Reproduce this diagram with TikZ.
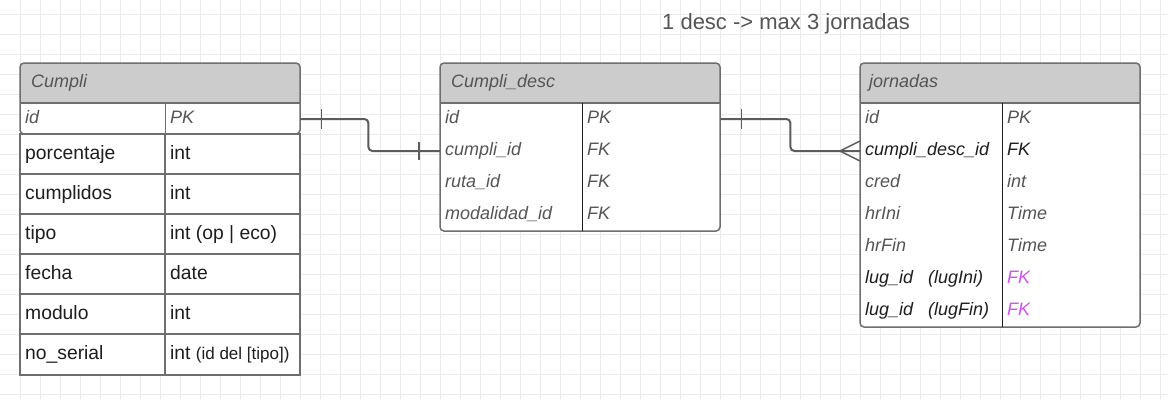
\documentclass[tikz,border=0pt]{standalone}
\usepackage{fontspec}
\setmainfont{Liberation Sans}
\definecolor{hdrgray}{HTML}{CCCCCC}
\definecolor{framegray}{HTML}{6E6E6E}
\definecolor{textgray}{HTML}{555555}
\definecolor{textdark}{HTML}{1E1E1E}
\definecolor{fkpink}{HTML}{CC55EE}
\definecolor{gridgray}{HTML}{EBEBEB}
\definecolor{linkgray}{HTML}{5C5C5C}

\begin{document}
\begin{tikzpicture}[x=1pt,y=-1pt,
		tblframe/.style={draw=framegray,line width=1.5pt},
		divline/.style={draw=textdark,line width=1pt},
		cell/.style={anchor=west,inner xsep=5pt,inner ysep=0pt,text height=13pt,text depth=4pt,font=\fontsize{18}{20}\selectfont\itshape,text=textgray},
		attr/.style={cell,font=\fontsize{19.3}{22}\selectfont,text=textdark,text height=14pt,text depth=3pt},
		link/.style={draw=linkgray,line width=2pt,rounded corners=4},
		tick/.style={draw=linkgray,line width=1.5pt}]
		\useasboundingbox (0,0) rectangle (1168,400);
		\fill[white] (0,0) rectangle (1168,400);
		% canvas grid
		\foreach \gx in {20,40,...,1160} \draw[gridgray,line width=1pt] (\gx,0) -- (\gx,400);
		\foreach \gy in {14,34,...,394} \draw[gridgray,line width=1pt] (0,\gy) -- (1168,\gy);
		
		\node[anchor=west,inner sep=0pt,font=\fontsize{22}{26}\selectfont,text=textgray] (note) at (662,24){1 desc -> max 3 jornadas};
		
		% Cumpli
		\fill[white,rounded corners=4] (20,63) rectangle (300,134);
		\fill[hdrgray,rounded corners=4] (20,103) -- (20,63) -- (300,63) -- (300,103);
		\draw[tblframe,rounded corners=4] (20,63) rectangle (300,134);
		\draw[tblframe] (20,103) -- (300,103);
		\draw[draw=framegray,line width=1pt] (165,103) -- (165,134);
		\fill[white] (20,134) rectangle (300,375);
		\draw[tblframe] (20,134) rectangle (300,375);
		\draw[tblframe] (20,174) -- (300,174) (20,214) -- (300,214) (20,254) -- (300,254) (20,294) -- (300,294) (20,334) -- (300,334);
		\draw[tblframe] (165,134) -- (165,375);
		\node[cell,inner xsep=0pt] (cumpli) at (31,83){Cumpli};
		\node[cell] (c1) at (20,119){id};
		\node[cell,text width=125pt] (c1t) at (165,119){PK};
		\node[attr] (c2) at (20,154){porcentaje};
		\node[attr] (c2t) at (165,154){int};
		\node[attr] (c3) at (20,194){cumplidos};
		\node[attr] (c3t) at (165,194){int};
		\node[attr] (c4) at (20,234){tipo};
		\node[attr] (c4t) at (165,234){int (op | eco)};
		\node[attr] (c5) at (20,274){fecha};
		\node[attr] (c5t) at (165,274){date};
		\node[attr] (c6) at (20,314){modulo};
		\node[attr] (c6t) at (165,314){int};
		\node[attr] (c7) at (20,354){no\_serial};
		\node[attr] (c7t) at (165,354){int {\fontsize{17}{19}\selectfont(id del [tipo])}};
		
		% Cumpli_desc
		\fill[white,rounded corners=4] (440,63) rectangle (720,231);
		\fill[hdrgray,rounded corners=4] (440,103) -- (440,63) -- (720,63) -- (720,103);
		\draw[tblframe,rounded corners=4] (440,63) rectangle (720,231);
		\draw[tblframe] (440,103) -- (720,103);
		\draw[divline] (582,103) -- (582,231);
		\node[cell,inner xsep=0pt] (desc) at (451,83){Cumpli\_desc};
		\node[cell] (d1) at (440,119){id};
		\node[cell,text width=128pt] (d1t) at (582,119){PK};
		\node[cell,text width=132pt] (d2) at (440,151){cumpli\_id};
		\node[cell] (d2t) at (582,151){FK};
		\node[cell] (d3) at (440,183){ruta\_id};
		\node[cell] (d3t) at (582,183){FK};
		\node[cell] (d4) at (440,215){modalidad\_id};
		\node[cell] (d4t) at (582,215){FK};
		
		% jornadas
		\fill[white,rounded corners=4] (860,63) rectangle (1140,327);
		\fill[hdrgray,rounded corners=4] (860,103) -- (860,63) -- (1140,63) -- (1140,103);
		\draw[tblframe,rounded corners=4] (860,63) rectangle (1140,327);
		\draw[tblframe] (860,103) -- (1140,103);
		\draw[divline] (1002,103) -- (1002,327);
		\node[cell,inner xsep=0pt] (jorn) at (869,83){jornadas};
		\node[cell] (j1) at (860,119){id};
		\node[cell] (j1t) at (1002,119){PK};
		\node[cell,text width=132pt,text=textdark] (j2) at (860,151){cumpli\_desc\_id};
		\node[cell,text=textdark] (j2t) at (1002,151){FK};
		\node[cell] (j3) at (860,183){cred};
		\node[cell] (j3t) at (1002,183){int};
		\node[cell] (j4) at (860,215){hrIni};
		\node[cell] (j4t) at (1002,215){Time};
		\node[cell] (j5) at (860,247){hrFin};
		\node[cell] (j5t) at (1002,247){Time};
		\node[cell,text=textdark] (j6) at (860,279){lug\_id\hspace{15pt}(lugIni)};
		\node[cell,text=fkpink] (j6t) at (1002,279){FK};
		\node[cell,text=textdark] (j7) at (860,311){lug\_id\hspace{15pt}(lugFin)};
		\node[cell,text=fkpink] (j7t) at (1002,311){FK};
		
		% relations
		\draw[link] (c1t.east) -- ++(68,0) |- (d2.west);
		\draw[tick] ([xshift=21pt]c1t.east) ++(0,-10) -- ++(0,20);
		\draw[tick] ([xshift=-21pt]d2.west) ++(0,-9) -- ++(0,18);
		\draw[link] (d1t.east) -- ++(70,0) |- (j2.west);
		\draw[tick] ([xshift=21pt]d1t.east) ++(0,-10) -- ++(0,20);
		\draw[tick] ([yshift=10pt]j2.west) -- ([xshift=-20pt]j2.west) -- ([yshift=-10pt]j2.west);
\end{tikzpicture}
\end{document}
